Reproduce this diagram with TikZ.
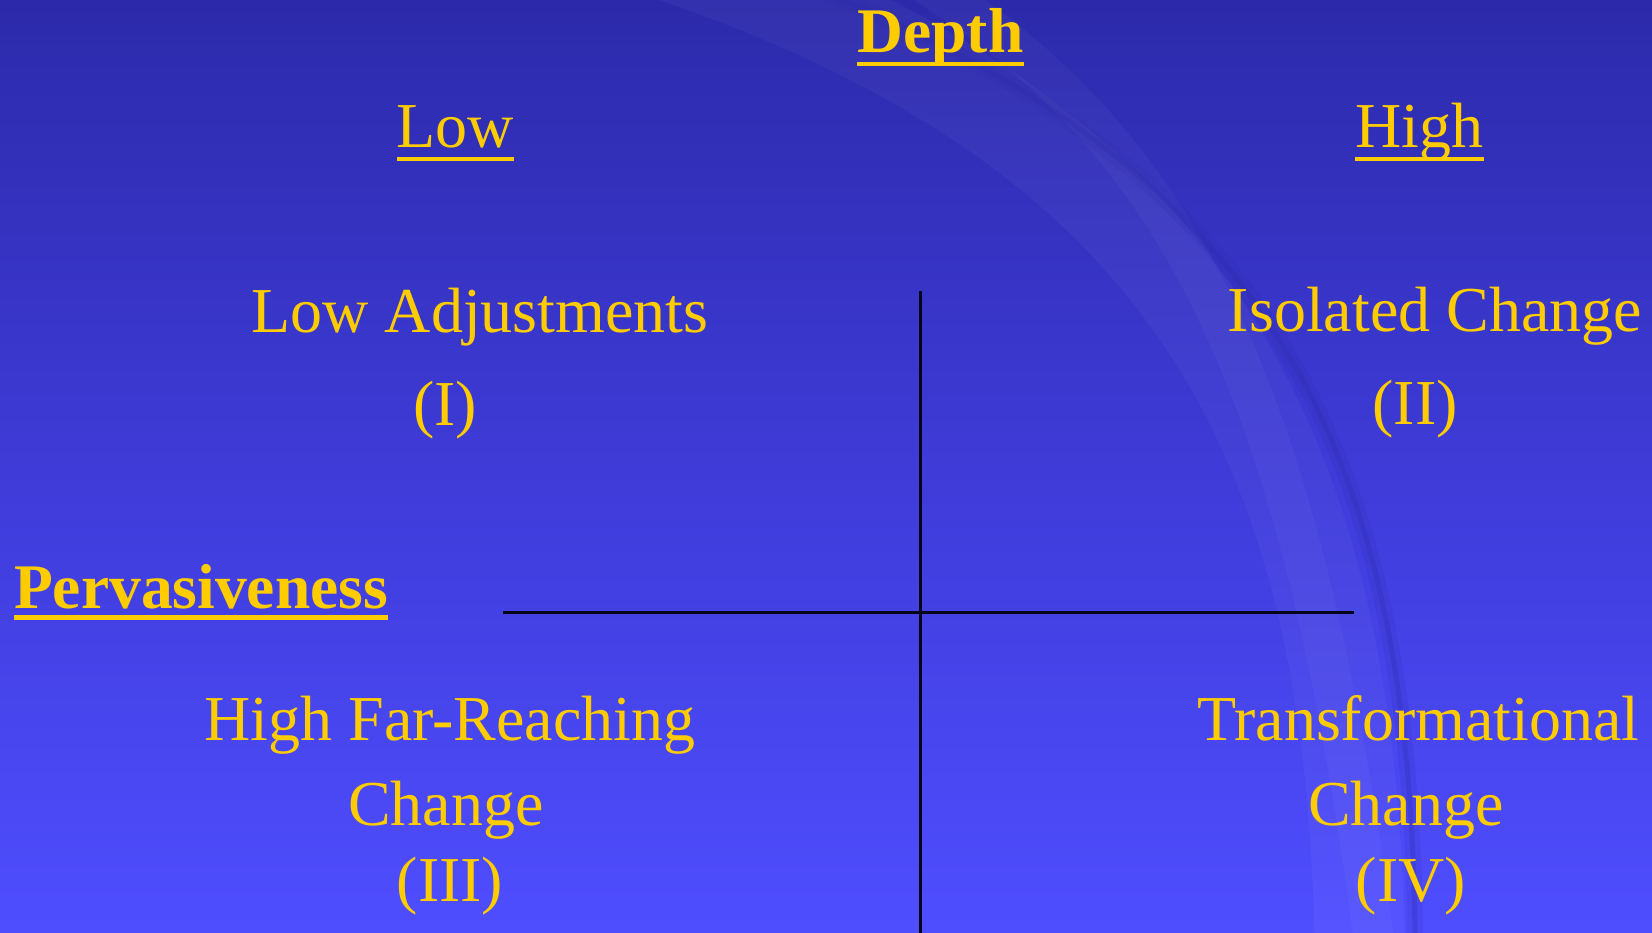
\documentclass[tikz,border=0pt]{standalone}
\usepackage{fontspec}
\setmainfont{Liberation Serif}
\definecolor{gold}{HTML}{FFCC00}
\definecolor{bgtop}{HTML}{2C2AAA}
\definecolor{bgmid}{HTML}{3E3BD8}
\definecolor{bgbot}{HTML}{4F4EFF}
\definecolor{axis}{HTML}{05051A}
\tikzset{
  lbl/.style={text=gold, inner sep=0pt, anchor=base, font=\fontsize{64}{70}\selectfont},
  blbl/.style={lbl, font=\fontsize{63.5}{70}\selectfont\bfseries},
  axisline/.style={draw=axis, line width=3pt},
  uline/.style={fill=gold}
}
\begin{document}
\begin{tikzpicture}[x=1pt,y=-1pt]
\useasboundingbox (0,0) rectangle (1652,933);
\shade[top color=bgtop, bottom color=bgbot, middle color=bgmid] (0,0) rectangle (1652,933);
% background swoosh
\begin{scope}
\clip (0,0) rectangle (1652,933);
\draw[white, opacity=0.035, line width=90pt] (620,-60) .. controls (1200,120) and (1360,450) .. (1360,990);
\draw[white, opacity=0.03, line width=40pt] (850,-60) .. controls (1150,100) and (1300,320) .. (1380,990);
\draw[bgtop, opacity=0.15, line width=16pt] (740,-40) .. controls (1280,150) and (1420,450) .. (1415,990);
\draw[bgtop, opacity=0.25, line width=5pt] (740,-40) .. controls (1280,150) and (1420,450) .. (1415,990);
\end{scope}
% titles
\node[blbl] (depth) at (940.5,53) {Depth};
\node[lbl] (low) at (455.5,148) {Low};
\node[lbl] (high) at (1419.5,148) {High};
\node[blbl] (perv) at (201,608) {Pervasiveness};
\foreach \n in {depth,low,high} {
  \fill[uline] ([yshift=-9pt]\n.base west) rectangle ([yshift=-13pt]\n.base east);
}
\fill[uline] ([yshift=-7pt]perv.base west) rectangle ([yshift=-12pt]perv.base east);
% quadrant labels
\node[lbl] (q1a) at (480,333) {Low Adjustments};
\node[lbl] (q1b) at (445,425) {(I)};
\node[lbl] (q2a) at (1435,332) {Isolated Change};
\node[lbl] (q2b) at (1415,424) {(II)};
\node[lbl] (q3a) at (450,740) {High Far-Reaching};
\node[lbl] (q3b) at (446,825) {Change};
\node[lbl] (q3c) at (450,901) {(III)};
\node[lbl] (q4a) at (1418.5,740) {Transformational};
\node[lbl] (q4b) at (1406,825) {Change};
\node[lbl] (q4c) at (1411,901) {(IV)};
% axes
\coordinate (vtop) at (920.5,291);
\coordinate (vbot) at (920.5,933);
\coordinate (hl) at (503,612);
\coordinate (hr) at (1354,612);
\draw[axisline] (vtop) -- (vbot);
\draw[axisline] (hl) -- (hr);
\end{tikzpicture}
\end{document}
